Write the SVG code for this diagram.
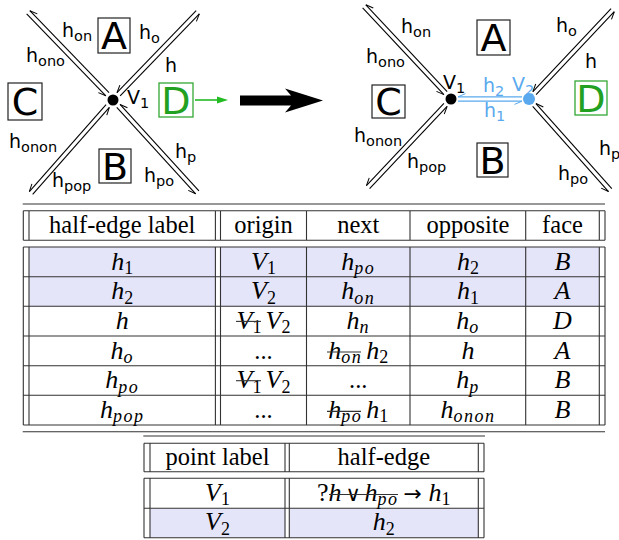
<svg xmlns="http://www.w3.org/2000/svg" width="619" height="540" viewBox="0 0 619 540">
<style>
.ln{stroke:#000;stroke-width:1.1;fill:none}
.bl{stroke:#5aa9ee;stroke-width:1.2;fill:none}
.box{fill:#fff;stroke:#222;stroke-width:1.2}
.gbox{fill:#fff;stroke:#22a022;stroke-width:1.2}
.big{font-family:'DejaVu Sans',sans-serif;font-size:38px;text-anchor:middle}
.lbl{font-family:'DejaVu Sans',sans-serif;font-size:19px}
.ls{font-size:14.5px}
.blue{fill:#5aa9ee}
.rule{stroke:#333;stroke-width:1.1;fill:none}
.th{font-family:'Liberation Serif','Times New Roman',serif;font-size:24.5px;text-anchor:middle}
.m{font-family:'Liberation Serif','Times New Roman',serif;font-size:26px;font-style:italic;text-anchor:middle}
.ms{font-family:'Liberation Serif','Times New Roman',serif;font-size:26px;font-style:italic}
.sb{font-size:18px;letter-spacing:1.5px}
.n{font-style:normal;letter-spacing:0}
.fill{fill:#e5e5fa}
</style>
<defs>
<marker id="hp" markerUnits="userSpaceOnUse" markerWidth="10" markerHeight="10" refX="0" refY="0" orient="auto" overflow="visible"><path d="M0,0 L-7.5,3.2" stroke="#000" stroke-width="1" fill="none"/></marker>
<marker id="hpb" markerUnits="userSpaceOnUse" markerWidth="10" markerHeight="10" refX="0" refY="0" orient="auto" overflow="visible"><path d="M0,0 L-7.5,3.2" stroke="#5aa9ee" stroke-width="1" fill="none"/></marker>
</defs>

<g id="connectors">
 <g transform="translate(113,100) rotate(-134)" class="ln"><line x1="8" y1="2.2" x2="122" y2="2.2" marker-end="url(#hp)"/><line x1="122" y1="-2.2" x2="8" y2="-2.2" marker-end="url(#hp)"/></g>
 <g transform="translate(113,100) rotate(-46)" class="ln"><line x1="8" y1="2.2" x2="122" y2="2.2" marker-end="url(#hp)"/><line x1="122" y1="-2.2" x2="8" y2="-2.2" marker-end="url(#hp)"/></g>
 <g transform="translate(113,100) rotate(131.4)" class="ln"><line x1="8" y1="2.2" x2="124" y2="2.2" marker-end="url(#hp)"/><line x1="124" y1="-2.2" x2="8" y2="-2.2" marker-end="url(#hp)"/></g>
 <g transform="translate(113,100) rotate(47.6)" class="ln"><line x1="8" y1="2.2" x2="125" y2="2.2" marker-end="url(#hp)"/><line x1="125" y1="-2.2" x2="8" y2="-2.2" marker-end="url(#hp)"/></g>
 <g transform="translate(451,99) rotate(-133.1)" class="ln"><line x1="8" y1="2.2" x2="127" y2="2.2" marker-end="url(#hp)"/><line x1="127" y1="-2.2" x2="8" y2="-2.2" marker-end="url(#hp)"/></g>
 <g transform="translate(451,99) rotate(133.3)" class="ln"><line x1="8" y1="2.2" x2="121" y2="2.2" marker-end="url(#hp)"/><line x1="121" y1="-2.2" x2="8" y2="-2.2" marker-end="url(#hp)"/></g>
 <g transform="translate(529,99) rotate(-46.7)" class="ln"><line x1="8" y1="2.2" x2="122" y2="2.2" marker-end="url(#hp)"/><line x1="122" y1="-2.2" x2="8" y2="-2.2" marker-end="url(#hp)"/></g>
 <g transform="translate(529,99) rotate(48.3)" class="ln"><line x1="8" y1="2.2" x2="122" y2="2.2" marker-end="url(#hp)"/><line x1="122" y1="-2.2" x2="8" y2="-2.2" marker-end="url(#hp)"/></g>
 <g transform="translate(451,99)" class="bl"><line x1="7" y1="2.2" x2="71" y2="2.2" marker-end="url(#hpb)"/><line x1="71" y1="-2.2" x2="7" y2="-2.2" marker-end="url(#hpb)"/></g>
 <line x1="195" y1="100" x2="221" y2="100" stroke="#22bb22" stroke-width="1.6"/>
 <path d="M217,96.5 L228,100 L217,103.5 Z" fill="#22bb22"/>
 <path d="M240,95.5 L291,95.5 L285,88.5 L323,100.5 L285,112.5 L291,105.5 L240,105.5 Z" fill="#000"/>
</g>

<g id="L_A"><rect class="box" x="98" y="18" width="32" height="35"/><text class="big" x="114" y="49">A</text></g>
<g id="L_B"><rect class="box" x="99" y="149" width="32" height="34"/><text class="big" x="115" y="180">B</text></g>
<g id="L_C"><rect class="box" x="8" y="83" width="34" height="37"/><text class="big" x="25" y="115">C</text></g>
<g id="L_D"><rect class="gbox" x="159" y="83" width="34" height="34"/><text class="big" x="176" y="114" fill="#22a022">D</text></g>
<g id="L_V1"><circle cx="113" cy="100" r="5.5" fill="#000"/><text class="lbl" x="127" y="104">V<tspan class="ls" dy="4">1</tspan></text></g>
<g id="L_labels">
 <text class="lbl" x="62" y="37">h<tspan class="ls" dy="4">on</tspan></text>
 <text class="lbl" x="26" y="62">h<tspan class="ls" dy="4">ono</tspan></text>
 <text class="lbl" x="139" y="39">h<tspan class="ls" dy="4">o</tspan></text>
 <text class="lbl" x="165" y="72">h</text>
 <text class="lbl" x="9" y="148">h<tspan class="ls" dy="4">onon</tspan></text>
 <text class="lbl" x="52" y="187">h<tspan class="ls" dy="4">pop</tspan></text>
 <text class="lbl" x="175" y="158">h<tspan class="ls" dy="4">p</tspan></text>
 <text class="lbl" x="144" y="182">h<tspan class="ls" dy="4">po</tspan></text>
</g>

<g id="R_A"><rect class="box" x="477" y="20" width="33" height="35"/><text class="big" x="493.5" y="51">A</text></g>
<g id="R_B"><rect class="box" x="477" y="143" width="31" height="34"/><text class="big" x="492.5" y="174">B</text></g>
<g id="R_C"><rect class="box" x="372" y="85" width="33" height="33"/><text class="big" x="388.5" y="115">C</text></g>
<g id="R_D"><rect class="gbox" x="575" y="81" width="32" height="34"/><text class="big" x="591" y="112" fill="#22a022">D</text></g>
<g id="R_V1"><circle cx="451" cy="99" r="5.5" fill="#000"/><text class="lbl" x="443" y="89">V<tspan class="ls" dy="4">1</tspan></text></g>
<g id="R_V2"><circle cx="529" cy="99" r="6" fill="#5aa9ee"/><text class="lbl blue" x="512" y="91">V<tspan class="ls" dy="4">2</tspan></text></g>
<g id="R_labels">
 <text class="lbl" x="401" y="33">h<tspan class="ls" dy="4">on</tspan></text>
 <text class="lbl" x="366" y="63">h<tspan class="ls" dy="4">ono</tspan></text>
 <text class="lbl" x="556" y="32">h<tspan class="ls" dy="4">o</tspan></text>
 <text class="lbl" x="585" y="68">h</text>
 <text class="lbl blue" x="483" y="92">h<tspan class="ls" dy="4">2</tspan></text>
 <text class="lbl blue" x="484" y="117">h<tspan class="ls" dy="4">1</tspan></text>
 <text class="lbl" x="354" y="142">h<tspan class="ls" dy="4">onon</tspan></text>
 <text class="lbl" x="407" y="168">h<tspan class="ls" dy="4">pop</tspan></text>
 <text class="lbl" x="599" y="155">h<tspan class="ls" dy="4">p</tspan></text>
 <text class="lbl" x="558" y="180">h<tspan class="ls" dy="4">po</tspan></text>
</g>

<g id="table1">
 <rect class="fill" x="29" y="247" width="186.4" height="59.3"/>
 <rect class="fill" x="220.5" y="247" width="378.8" height="59.3"/>
 <path class="rule" d="M22.7,204H605 M22.7,431.7H605
  M23.3,210.7H605 M23.3,240.3H605
  M23.3,247H605 M23.3,276.7H605 M23.3,306.3H605 M23.3,336H605 M23.3,365.7H605 M23.3,395.3H605 M23.3,425H605
  M23.3,210.7V240.3 M29,210.7V240.3 M215.4,210.7V240.3 M220.5,210.7V240.3 M306.5,210.7V240.3 M410,210.7V240.3 M525.7,210.7V240.3 M599.3,210.7V240.3 M605,210.7V240.3
  M23.3,247V425 M29,247V425 M215.4,247V425 M220.5,247V425 M306.5,247V425 M410,247V425 M525.7,247V425 M599.3,247V425 M605,247V425"/>
 <text class="th" x="122.2" y="233">half-edge label</text>
 <text class="th" x="263.5" y="233">origin</text>
 <text class="th" x="358.3" y="233">next</text>
 <text class="th" x="467.9" y="233">opposite</text>
 <text class="th" x="562.5" y="233">face</text>

 <text class="m" x="122.2" y="269.5">h<tspan class="sb n" dy="4.5">1</tspan></text>
 <text class="m" x="263.5" y="269.5">V<tspan class="sb n" dy="4.5">1</tspan></text>
 <text class="m" x="358.3" y="269.5">h<tspan class="sb" dy="4.5">po</tspan></text>
 <text class="m" x="467.9" y="269.5">h<tspan class="sb n" dy="4.5">2</tspan></text>
 <text class="m" x="562.5" y="269.5">B</text>

 <text class="m" x="122.2" y="299.2">h<tspan class="sb n" dy="4.5">2</tspan></text>
 <text class="m" x="263.5" y="299.2">V<tspan class="sb n" dy="4.5">2</tspan></text>
 <text class="m" x="358.3" y="299.2">h<tspan class="sb" dy="4.5">on</tspan></text>
 <text class="m" x="467.9" y="299.2">h<tspan class="sb n" dy="4.5">1</tspan></text>
 <text class="m" x="562.5" y="299.2">A</text>

 <text class="m" x="122.2" y="328.9">h</text>
 <text class="ms" x="236.6" y="328.9">V<tspan class="sb n" dy="4.5">1</tspan></text>
 <line class="rule" x1="236" y1="321.4" x2="261" y2="321.4"/>
 <text class="ms" x="265.5" y="328.9">V<tspan class="sb n" dy="4.5">2</tspan></text>
 <text class="m" x="358.3" y="328.9">h<tspan class="sb" dy="4.5">n</tspan></text>
 <text class="m" x="467.9" y="328.9">h<tspan class="sb" dy="4.5">o</tspan></text>
 <text class="m" x="562.5" y="328.9">D</text>

 <text class="m" x="122.2" y="358.5">h<tspan class="sb" dy="4.5">o</tspan></text>
 <text class="th" x="263.5" y="358.5">...</text>
 <text class="ms" x="328.3" y="358.5">h<tspan class="sb" dy="4.5">on</tspan></text>
 <line class="rule" x1="327" y1="352" x2="361" y2="352"/>
 <text class="ms" x="366.3" y="358.5">h<tspan class="sb n" dy="4.5">2</tspan></text>
 <text class="m" x="467.9" y="358.5">h</text>
 <text class="m" x="562.5" y="358.5">A</text>

 <text class="m" x="122.2" y="388.2">h<tspan class="sb" dy="4.5">po</tspan></text>
 <text class="ms" x="236.6" y="388.2">V<tspan class="sb n" dy="4.5">1</tspan></text>
 <line class="rule" x1="236" y1="380.7" x2="261" y2="380.7"/>
 <text class="ms" x="265.5" y="388.2">V<tspan class="sb n" dy="4.5">2</tspan></text>
 <text class="th" x="358.3" y="388.2">...</text>
 <text class="m" x="467.9" y="388.2">h<tspan class="sb" dy="4.5">p</tspan></text>
 <text class="m" x="562.5" y="388.2">B</text>

 <text class="m" x="122.2" y="417.9">h<tspan class="sb" dy="4.5">pop</tspan></text>
 <text class="th" x="263.5" y="417.9">...</text>
 <text class="ms" x="328.3" y="417.9">h<tspan class="sb" dy="4.5">po</tspan></text>
 <line class="rule" x1="327" y1="411.4" x2="361" y2="411.4"/>
 <text class="ms" x="366.3" y="417.9">h<tspan class="sb n" dy="4.5">1</tspan></text>
 <text class="m" x="467.9" y="417.9">h<tspan class="sb" dy="4.5">onon</tspan></text>
 <text class="m" x="562.5" y="417.9">B</text>
</g>

<g id="table2">
 <rect class="fill" x="150" y="508.3" width="135" height="29.4"/>
 <rect class="fill" x="289.3" y="508.3" width="189" height="29.4"/>
 <path class="rule" d="M143.3,436H485
  M144,443.3H484 M144,471.7H484 M144,478.3H484 M144,508.3H484 M144,537.7H484
  M144,443.3V471.7 M150,443.3V471.7 M285,443.3V471.7 M289.3,443.3V471.7 M478.3,443.3V471.7 M484,443.3V471.7
  M144,478.3V537.7 M150,478.3V537.7 M285,478.3V537.7 M289.3,478.3V537.7 M478.3,478.3V537.7 M484,478.3V537.7"/>
 <text class="th" x="217.5" y="465">point label</text>
 <text class="th" x="383.8" y="465">half-edge</text>
 <text class="m" x="217.5" y="500.8">V<tspan class="sb n" dy="4.5">1</tspan></text>
 <text class="th" x="317" y="500.8" style="text-anchor:start;font-size:26px">?</text>
 <text class="ms" x="328.5" y="500.8">h</text>
 <text x="345.5" y="500.8" font-family="'DejaVu Serif',serif" font-size="21">∨</text>
 <text class="ms" x="364.5" y="500.8">h<tspan class="sb" dy="4.5">po</tspan></text>
 <line class="rule" x1="329" y1="494.5" x2="398" y2="494.5"/>
 <text x="403.5" y="500.8" font-family="'DejaVu Sans',sans-serif" font-size="22">→</text>
 <text class="ms" x="428.5" y="500.8">h<tspan class="sb n" dy="4.5">1</tspan></text>
 <text class="m" x="217.5" y="530.3">V<tspan class="sb n" dy="4.5">2</tspan></text>
 <text class="m" x="383.8" y="530.3">h<tspan class="sb n" dy="4.5">2</tspan></text>
</g>
</svg>
